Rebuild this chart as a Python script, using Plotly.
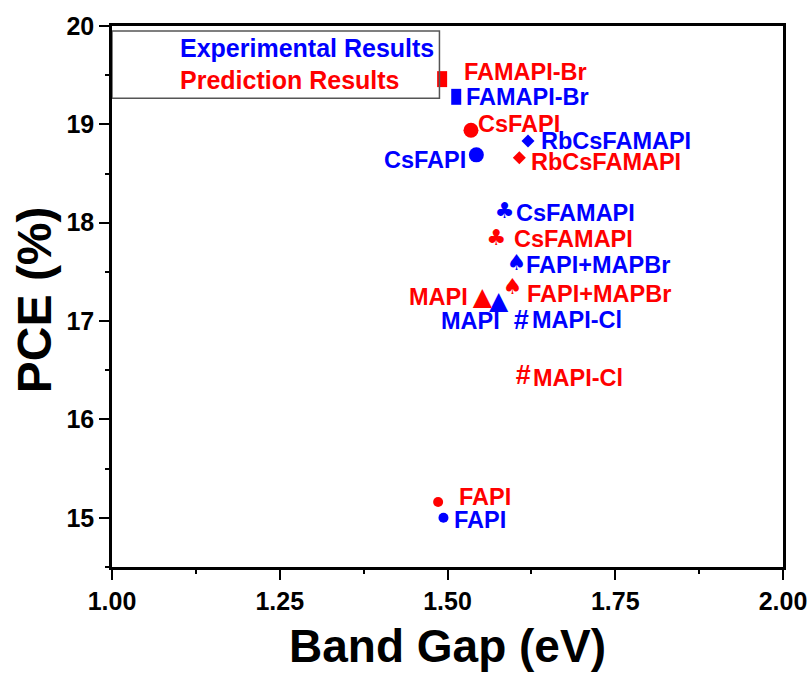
import plotly.graph_objects as go

# ---------------- data ----------------
categories = ["FAMAPI-Br", "CsFAPI", "RbCsFAMAPI", "CsFAMAPI",
              "FAPI+MAPBr", "MAPI", "MAPI-Cl", "FAPI"]
exp_bandgap = [1.513, 1.543, 1.620, 1.585, 1.603, 1.576, 1.610, 1.494]
exp_pce     = [19.28, 18.69, 18.83, 18.10, 17.58, 17.19, 16.99, 15.00]
pred_bandgap = [1.492, 1.535, 1.607, 1.573, 1.597, 1.552, 1.613, 1.486]
pred_pce     = [19.46, 18.94, 18.66, 17.83, 17.33, 17.23, 16.43, 15.16]
x_ticks = [1.00, 1.25, 1.50, 1.75, 2.00]
y_ticks = [15, 16, 17, 18, 19, 20]
legend_texts = ["Experimental Results", "Prediction Results"]
x_title = "Band Gap (eV)"
y_title = "PCE (%)"

# ---------------- styles ----------------
BLUE = "#0000FF"
RED = "#FF0000"
LABEL_FONT = "Liberation Sans, Arial, sans-serif"

# marker style per category: ("sym", symbol, size) or ("glyph", char, size, family)
marker_style = {
    "FAMAPI-Br": ("sym", "line-ns", 11.4),
    "CsFAPI": ("sym", "circle", 15),
    "RbCsFAMAPI": ("sym", "diamond", 10),
    "CsFAMAPI": ("glyph", "\u2663", 22, "DejaVu Sans"),
    "FAPI+MAPBr": ("glyph", "\u2660", 22, "DejaVu Sans"),
    "MAPI": ("glyph", "\u25B2", 25, "DejaVu Sans"),
    "MAPI-Cl": ("glyph", "#", 27, "Liberation Sans Narrow, Liberation Sans"),
    "FAPI": ("sym", "circle", 10),
}
# label offsets in pixels: (xanchor, xshift, yshift)
exp_label_pos = {
    "FAMAPI-Br": ("left", 8, 0),
    "CsFAPI": ("right", -8, -5),
    "RbCsFAMAPI": ("left", 11, 0),
    "CsFAMAPI": ("left", 9, 0),
    "FAPI+MAPBr": ("left", 7, -1),
    "MAPI": ("right", 3, -19),
    "MAPI-Cl": ("left", 9, 2),
    "FAPI": ("left", 9, -2),
}
pred_label_pos = {
    "FAMAPI-Br": ("left", 20, 7),
    "CsFAPI": ("left", 5, 6),
    "RbCsFAMAPI": ("left", 10, -4),
    "CsFAMAPI": ("left", 16, 0),
    "FAPI+MAPBr": ("left", 12, -5),
    "MAPI": ("right", -12, 1),
    "MAPI-Cl": ("left", 8, -1),
    "FAPI": ("left", 19, 5),
}

fig = go.Figure()
annotations = []


def add_series(xs, ys, color, label_pos, name):
    for cat, xv, yv in zip(categories, xs, ys):
        st = marker_style[cat]
        if st[0] == "sym":
            sym, size = st[1], st[2]
            if sym == "line-ns":
                marker = dict(symbol=sym, size=size, color=color,
                              line=dict(color=color, width=10))
            else:
                marker = dict(symbol=sym, size=size, color=color,
                              line=dict(width=0))
            fig.add_trace(go.Scatter(x=[xv], y=[yv], mode="markers",
                                     marker=marker, name=name,
                                     showlegend=False, hoverinfo="skip"))
        else:
            fig.add_trace(go.Scatter(x=[xv], y=[yv], mode="text",
                                     text=[st[1]], textposition="middle center",
                                     textfont=dict(family=st[3], size=st[2], color=color,
                                                   weight="bold"),
                                     name=name, showlegend=False, hoverinfo="skip"))
        anc, xs_, ys_ = label_pos[cat]
        annotations.append(dict(
            x=xv, y=yv, xref="x", yref="y", text=cat, showarrow=False,
            xanchor=anc, yanchor="middle", xshift=xs_, yshift=ys_,
            font=dict(family=LABEL_FONT, size=23.5, color=color, weight="bold")))


add_series(exp_bandgap, exp_pce, BLUE, exp_label_pos, legend_texts[0])
add_series(pred_bandgap, pred_pce, RED, pred_label_pos, legend_texts[1])

# legend box (text only, like the original)
legend_colors = [BLUE, RED]
legend_y = [0.959, 0.900]
for txt, col, ly in zip(legend_texts, legend_colors, legend_y):
    annotations.append(dict(
        x=0.099, y=ly, xref="paper", yref="paper", text=txt, showarrow=False,
        xanchor="left", yanchor="middle",
        font=dict(family=LABEL_FONT, size=25, color=col, weight="bold")))

# y-axis title placed as rotated annotation (slightly below plot centre as in original)
annotations.append(dict(
    x=-0.1162, y=0.4933, xref="paper", yref="paper", text=y_title,
    showarrow=False, textangle=-90, xanchor="center", yanchor="middle",
    font=dict(family=LABEL_FONT, size=48, color="black", weight="bold")))

shapes = [dict(type="rect", xref="x", yref="y", x0=1.0, x1=1.488,
               y0=19.266, y1=19.95, line=dict(color="#555555", width=1.5),
               fillcolor="rgba(0,0,0,0)", layer="above")]

axis_common = dict(
    showgrid=False, zeroline=False, showline=True, linecolor="black",
    linewidth=2.5, mirror=True, ticks="outside", ticklen=10, tickwidth=2,
    tickcolor="black", automargin=False,
    tickfont=dict(family=LABEL_FONT, size=25, color="black", weight="bold"),
)

fig.update_layout(
    width=812, height=677,
    margin=dict(l=112, r=29, t=26, b=110),
    plot_bgcolor="white", paper_bgcolor="white",
    annotations=annotations, shapes=shapes,
    xaxis=dict(range=[1.0, 2.0], tickvals=x_ticks,
               ticktext=[f"{v:.2f}" for v in x_ticks],
               minor=dict(dtick=0.125, tick0=1.0, ticks="outside", ticklen=4,
                          tickwidth=2, tickcolor="black", showgrid=False),
               title=dict(text=x_title, standoff=17,
                          font=dict(family=LABEL_FONT, size=46, color="black", weight="bold")),
               **axis_common),
    yaxis=dict(range=[14.5, 20.0], tickvals=y_ticks,
               minor=dict(dtick=0.5, tick0=14.5, ticks="outside", ticklen=4,
                          tickwidth=2, tickcolor="black", showgrid=False),
               **axis_common),
)

fig.write_html("out.html")
